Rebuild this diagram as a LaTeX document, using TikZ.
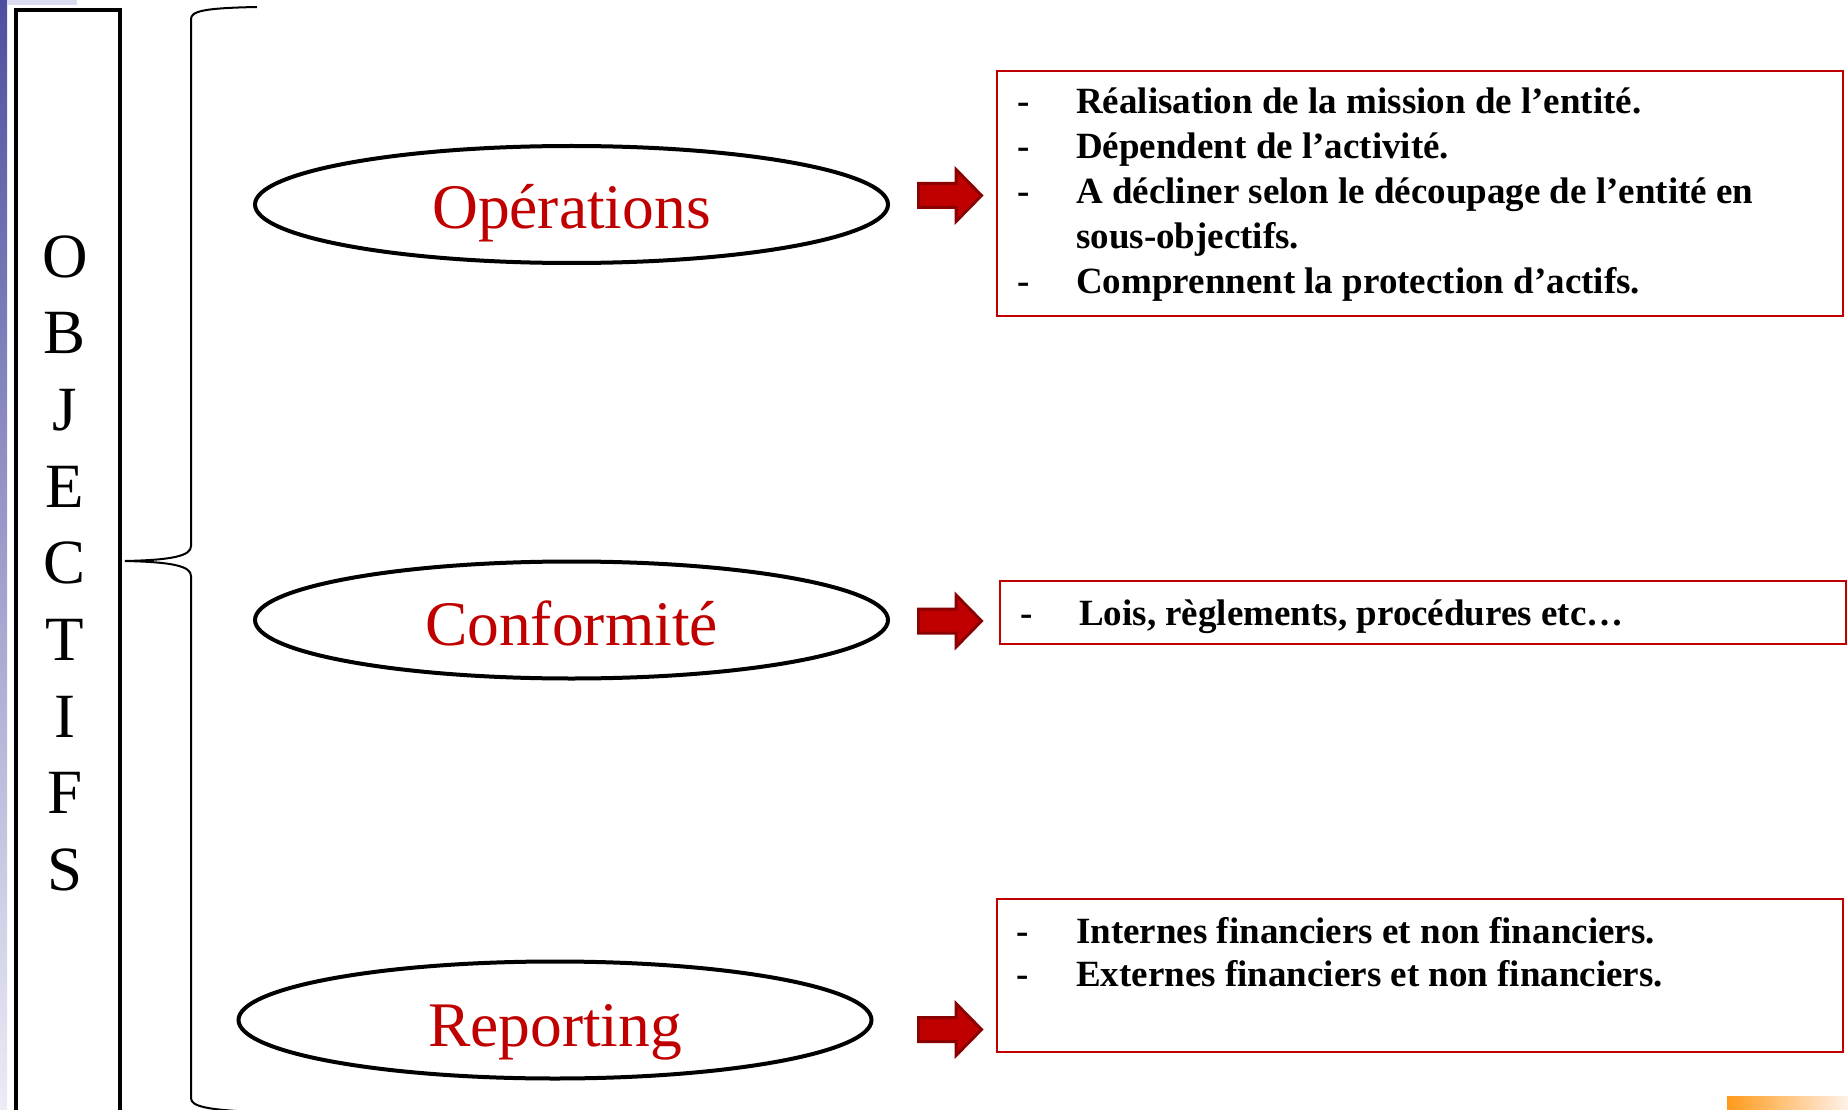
\documentclass[tikz,border=0pt]{standalone}
\usepackage{fontspec}
\setmainfont{Liberation Serif}
\usetikzlibrary{shapes.geometric}
\definecolor{dred}{HTML}{C00000}
\definecolor{darr}{HTML}{8B0000}
\definecolor{striptop}{HTML}{4E4EA0}
\definecolor{stripbot}{HTML}{ECECF6}
\definecolor{band}{HTML}{DCDCF0}
\definecolor{orangeA}{HTML}{FF9A1A}
\definecolor{orangeB}{HTML}{FFF2EA}
\begin{document}
\begin{tikzpicture}[x=1pt,y=-1pt,
  oval/.style={ellipse, draw, line width=4pt, minimum width=633pt, minimum height=117pt, inner sep=0pt},
  olabel/.style={anchor=base, inner sep=0pt, text=dred, font=\fontsize{63.5}{76}\selectfont},
  letter/.style={anchor=base, inner sep=0pt, font=\fontsize{63}{76}\selectfont},
  tbox/.style={draw=dred, line width=2pt, anchor=north west, inner sep=0pt},
  item/.style={anchor=base west, inner sep=0pt, font=\fontsize{37}{45}\selectfont\bfseries},
  blockarrow/.style={fill=dred, draw=darr, line width=3pt, line join=miter},
  bracepath/.style={draw, line width=2pt}]
\useasboundingbox (0,0) rectangle (1848,1110);
% decorations of the slide
\shade[top color=striptop, bottom color=stripbot] (0,0) rectangle (7,1110);
\fill[band] (7,0) rectangle (77,5);
\shade[left color=orangeA, right color=orangeB] (1727,1096) rectangle (1848,1110);
% OBJECTIFS box
\node[draw, line width=4.5pt, anchor=north west, minimum width=104pt, minimum height=1120pt, inner sep=0pt] (obj) at (13.5,8) {};
\foreach \l/\y [count=\i] in {O/277,B/353.7,J/430.3,E/507,C/583.7,T/660.3,I/737,F/813.7,S/890.4}
  \node[letter] (L\i) at (65,\y) {\l};
% brace
\coordinate (btip) at (125,561);
\draw[bracepath] (257,7) .. controls (205,8) and (191,11) .. (191,19) -- (191,546)
  .. controls (191,556) and (172,560) .. (btip)
  .. controls (172,562) and (191,566) .. (191,576) -- (191,1098)
  .. controls (191,1106) and (205,1110) .. (257,1112);
% ellipses
\node[oval] (e1) at (571.5,204.5) {};
\node[olabel] (t1) at (571.5,229) {Opérations};
\node[oval] (e2) at (571.5,620) {};
\node[olabel] (t2) at (571.5,645) {Conformité};
\node[oval] (e3) at (555,1020) {};
\node[olabel] (t3) at (555,1046) {Reporting};
% block arrows
\foreach \y [count=\i] in {195.5,621,1029.5}{
  \path[blockarrow] (918.5,\y-12) -- (956,\y-12) -- (956,\y-26) -- (981.5,\y) -- (956,\y+26) -- (956,\y+12) -- (918.5,\y+12) -- cycle;
}
% text boxes
\node[tbox, minimum width=846pt, minimum height=245pt] (b1) at (996,70) {};
\node[tbox, minimum width=846pt, minimum height=63pt] (b2) at (999,580) {};
\node[tbox, minimum width=846pt, minimum height=153pt] (b3) at (996,898) {};
% box 1 items
\foreach \y/\txt [count=\i] in {114/{Réalisation de la mission de l’entité.},159/{Dépendent de l’activité.},204/{A décliner selon le découpage de l’entité en},294/{Comprennent la protection d’actifs.}}{
  \node[item] (d1\i) at (1017,\y) {-};
  \node[item] (i1\i) at (1076,\y) {\txt};
}
\node[item] (i1x) at (1076,249) {sous-objectifs.};
% box 2 item
\node[item] (d21) at (1020,625) {-};
\node[item] (i21) at (1079,625) {Lois, règlements, procédures etc…};
% box 3 items
\node[item] (d31) at (1016,943) {-};
\node[item] (i31) at (1076,943) {Internes financiers et non financiers.};
\node[item] (d32) at (1016,986) {-};
\node[item] (i32) at (1076,986) {Externes financiers et non financiers.};
\end{tikzpicture}
\end{document}
